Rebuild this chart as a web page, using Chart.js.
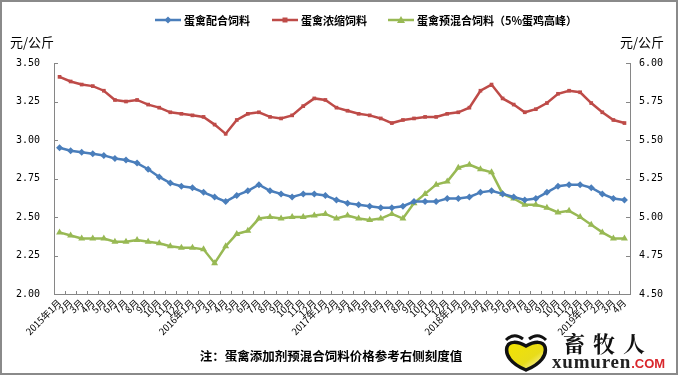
<!DOCTYPE html>
<html><head><meta charset="utf-8">
<script src="https://cdn.jsdelivr.net/npm/chart.js@4"></script>
<style>
html,body{margin:0;padding:0;background:#fff;}
#wrap{position:relative;width:678px;height:375px;overflow:hidden;}
#frame{position:absolute;left:0;top:0;width:674px;height:371px;border:2px solid #8a8a8a;pointer-events:none;}
#note{position:absolute;left:0;width:662px;top:346px;text-align:center;font:bold 12.5px "Noto Sans CJK SC",sans-serif;color:#000;}
#logo{position:absolute;left:503px;top:331px;}
#lt1{position:absolute;left:563px;top:330px;font:bold 22px "Noto Serif CJK SC","Noto Sans CJK SC",serif;letter-spacing:8px;color:#111;line-height:26px;}
#lt2{position:absolute;left:552px;top:352px;font:bold 19px "Liberation Serif",serif;color:#222;letter-spacing:0.8px;line-height:20px;}
#lt2 span{color:#d9262c;font:bold 13px "Liberation Sans",sans-serif;letter-spacing:0;}
</style></head>
<body><div id="wrap"><canvas id="c" width="678" height="375"></canvas>
<div id="note">注：蛋禽添加剂预混合饲料价格参考右侧刻度值</div>
<svg id="logo" width="46" height="42" viewBox="0 0 46 42">
<defs><linearGradient id="g" x1="0" y1="0" x2="1" y2="1"><stop offset="0" stop-color="#f3e400"/><stop offset="0.6" stop-color="#e8dc1a"/><stop offset="1" stop-color="#fffbe0"/></linearGradient></defs>
<path d="M3 9 Q11 1 20 8" stroke="#111" stroke-width="3" fill="none"/>
<path d="M26 8 Q35 1 43 9" stroke="#111" stroke-width="3" fill="none"/>
<path d="M23 39 C8 33 2 24 4 16 C6 10 14 10 23 15 C32 10 40 10 42 16 C44 24 38 33 23 39 Z" fill="url(#g)" stroke="#111" stroke-width="3.5"/>
</svg>
<div id="lt1">畜牧人</div>
<div id="lt2">xumuren<span>.COM</span></div>
<div id="frame"></div></div>
<script>
const categories = ["2015年1月","2月","3月","4月","5月","6月","7月","8月","9月","10月","11月","12月",
"2016年1月","2月","3月","4月","5月","6月","7月","8月","9月","10月","11月","12月",
"2017年1月","2月","3月","4月","5月","6月","7月","8月","9月","10月","11月","12月",
"2018年1月","2月","3月","4月","5月","6月","7月","8月","9月","10月","11月","12月",
"2019年1月","2月","3月","4月"];
const seriesNames = ["蛋禽配合饲料","蛋禽浓缩饲料","蛋禽预混合饲料（5%蛋鸡高峰）"];
const peiheFeed = [2.95,2.93,2.92,2.91,2.90,2.88,2.87,2.85,2.81,2.76,2.72,2.70,2.69,2.66,2.63,2.60,2.64,2.67,2.71,2.67,2.65,2.63,2.65,2.65,2.64,2.61,2.59,
2.58,2.57,2.56,2.56,2.57,2.60,2.60,2.60,2.62,2.62,2.63,2.66,2.67,2.65,2.63,2.61,2.62,2.66,2.70,2.71,2.71,2.69,2.65,2.62,2.61];
const nongsuoFeed = [5.91,5.88,5.86,5.85,5.82,5.76,5.75,5.76,5.73,5.71,5.68,5.67,5.66,5.65,5.60,5.54,5.63,5.67,5.68,5.65,5.64,5.66,5.72,5.77,5.76,5.71,5.69,
5.67,5.66,5.64,5.61,5.63,5.64,5.65,5.65,5.67,5.68,5.71,5.82,5.86,5.77,5.73,5.68,5.70,5.74,5.80,5.82,5.81,5.74,5.68,5.63,5.61];
const yuhunheFeed = [4.90,4.88,4.86,4.86,4.86,4.84,4.84,4.85,4.84,4.83,4.81,4.80,4.80,4.79,4.70,4.81,4.89,4.91,4.99,5.00,4.99,5.00,5.00,5.01,5.02,4.99,5.01,
4.99,4.98,4.99,5.02,4.99,5.09,5.15,5.21,5.23,5.32,5.34,5.31,5.29,5.15,5.12,5.08,5.08,5.06,5.03,5.04,5.00,4.95,4.90,4.86,4.86];
const leftTicks = [2.00,2.25,2.50,2.75,3.00,3.25,3.50];
const rightTicks = [4.50,4.75,5.00,5.25,5.50,5.75,6.00];
const unitLabel = "元/公斤";

const AX = '#868686';
const tickFont = {family:'"DejaVu Sans Mono", monospace', size:10};

const extras = {
  id:'extras',
  afterDraw(chart){
    const ctx = chart.ctx, ca = chart.chartArea;
    ctx.save();
    ctx.strokeStyle = AX; ctx.lineWidth = 1;
    const yl = chart.scales.y, yr = chart.scales.y1, x = chart.scales.x;
    ctx.beginPath();
    yl.ticks.forEach(t=>{const p=Math.round(yl.getPixelForValue(t.value))+0.5; ctx.moveTo(ca.left,p); ctx.lineTo(ca.left+4,p);});
    yr.ticks.forEach(t=>{const p=Math.round(yr.getPixelForValue(t.value))+0.5; ctx.moveTo(ca.right-4,p); ctx.lineTo(ca.right,p);});
    const n = categories.length;
    for(let i=0;i<=n;i++){
      const px = Math.round(i===0?ca.left:(i===n?ca.right:(x.getPixelForValue(i-1)+x.getPixelForValue(i))/2))+0.5;
      ctx.moveTo(px,ca.bottom); ctx.lineTo(px,ca.bottom-3);
    }
    ctx.stroke();
    ctx.fillStyle='#000';
    ctx.font='13px "Noto Sans CJK SC", sans-serif';
    ctx.textBaseline='middle';
    ctx.textAlign='left';
    ctx.fillText(unitLabel, 10, 42);
    ctx.fillText(unitLabel, 620, 42);
    const lx = [155, 272, 388];
    chart.data.datasets.forEach((ds,i)=>{
      const y0 = 20;
      ctx.strokeStyle = ds.borderColor; ctx.lineWidth = 2.5;
      ctx.beginPath(); ctx.moveTo(lx[i], y0); ctx.lineTo(lx[i]+26, y0); ctx.stroke();
      ctx.fillStyle = ds.borderColor;
      const cx = lx[i]+13;
      ctx.beginPath();
      if(i===0){ctx.moveTo(cx,y0-3.5);ctx.lineTo(cx+3.5,y0);ctx.lineTo(cx,y0+3.5);ctx.lineTo(cx-3.5,y0);}
      else if(i===1){ctx.rect(cx-2.5,y0-2.5,5,5);}
      else {ctx.moveTo(cx,y0-4);ctx.lineTo(cx+4,y0+3);ctx.lineTo(cx-4,y0+3);}
      ctx.closePath(); ctx.fill();
      ctx.fillStyle='#000';
      ctx.font='bold 11px "Noto Sans CJK SC", sans-serif';
      ctx.textAlign='left'; ctx.textBaseline='middle';
      ctx.fillText(ds.label, lx[i]+29, y0+1);
    });
    ctx.restore();
  }
};

new Chart(document.getElementById('c'), {
  type:'line',
  data:{
    labels: categories,
    datasets:[
      {label:seriesNames[0], data:peiheFeed, yAxisID:'y', borderColor:'#4A7EBB', backgroundColor:'#4A7EBB', borderWidth:2.5, pointStyle:'rectRot', pointRadius:3.5, pointBorderWidth:0, tension:0},
      {label:seriesNames[1], data:nongsuoFeed, yAxisID:'y1', borderColor:'#BE4B48', backgroundColor:'#BE4B48', borderWidth:2.5, pointStyle:'rect', pointRadius:2.6, pointBorderWidth:0, tension:0},
      {label:seriesNames[2], data:yuhunheFeed, yAxisID:'y1', borderColor:'#98B954', backgroundColor:'#98B954', borderWidth:2.5, pointStyle:'triangle', pointRadius:4, pointBorderWidth:0, tension:0}
    ]
  },
  options:{
    responsive:false, animation:false,
    layout:{padding:{top:63,bottom:0,left:0,right:0}},
    plugins:{legend:{display:false}, tooltip:{enabled:false}},
    scales:{
      x:{
        offset:true,
        grid:{display:false, drawTicks:false},
        border:{display:true,color:AX,width:1},
        ticks:{autoSkip:false, maxRotation:45, minRotation:45, padding:3, color:'#000', font:{family:'"Noto Sans CJK SC", sans-serif', size:9.5}},
        afterFit(s){s.height = 81;}
      },
      y:{
        position:'left', min:2.0, max:3.5,
        afterBuildTicks(s){s.ticks = leftTicks.map(v=>({value:v}));},
        grid:{display:false, drawTicks:false},
        border:{display:true,color:AX,width:1},
        ticks:{padding:14, color:'#000', font:tickFont, callback:v=>v.toFixed(2)},
        afterFit(s){s.width = 54;}
      },
      y1:{
        position:'right', min:4.5, max:6.0,
        afterBuildTicks(s){s.ticks = rightTicks.map(v=>({value:v}));},
        grid:{display:false, drawTicks:false},
        border:{display:true,color:AX,width:1},
        ticks:{padding:9, color:'#000', font:tickFont, callback:v=>v.toFixed(2)},
        afterFit(s){s.width = 48;}
      }
    }
  },
  plugins:[extras]
});
</script></body></html>
